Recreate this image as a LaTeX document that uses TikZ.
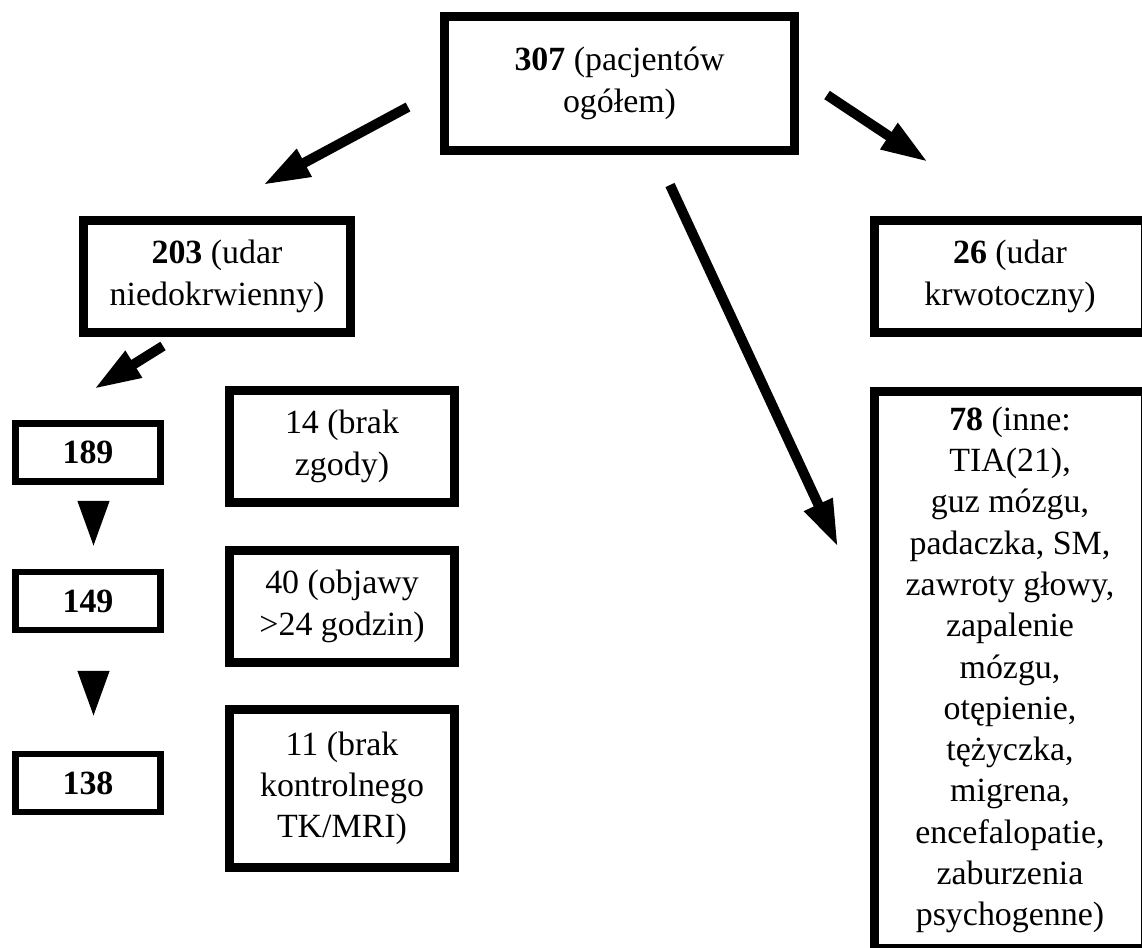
\documentclass[tikz,border=0pt]{standalone}
\usepackage{fontspec}
\setmainfont{Liberation Serif}
\usetikzlibrary{arrows.meta}
\tikzset{
  box/.style   ={draw, line width=0.18cm, align=center, inner sep=0pt,
                 font=\fontsize{19.3}{23.5}\selectfont},
  bigbox/.style={box, minimum width=5.34cm, minimum height=2.24cm},
  exbox/.style ={box, minimum width=4.5cm, minimum height=2.24cm},
  numbox/.style={box, line width=0.13cm, minimum width=2.91cm,
                 minimum height=1.16cm, font=\fontsize{19.3}{23.5}\selectfont\bfseries},
  % thick shaft with a big solid head
  flow/.style  ={line width=0.2cm, -{Triangle[length=0.94cm,width=0.58cm]}},
  % only the head, between two of the count boxes
  drop/.style  ={line width=0.2cm, -{Triangle[length=0.94cm,width=0.58cm]}},
}
\begin{document}
\begin{tikzpicture}[x=0.02cm, y=-0.02cm]
\useasboundingbox (0,0) rectangle (1142,947);
\node[box, line width=0.17cm, minimum width=7.01cm, minimum height=2.69cm]
  (total) at (619.5,83.5) {\textbf{307} (pacjentów\\ogółem)};
\node[bigbox] (isch) at (217,276.5) {\textbf{203} (udar\\niedokrwienny)};
\node[bigbox, minimum width=5.42cm] (hem) at (1010,276.5) {\textbf{26} (udar\\krwotoczny)};
\node[box, minimum width=5.42cm, minimum height=11.14cm] (other) at (1010,670)
  {\textbf{78} (inne:\\TIA(21),\\guz mózgu,\\padaczka, SM,\\zawroty głowy,\\zapalenie\\mózgu,\\otępienie,\\tężyczka,\\migrena,\\encefalopatie,\\zaburzenia\\psychogenne)};
\foreach \n/\y/\lab in {n189/452.5/189, n149/601/149, n138/783/138}
  {\node[numbox] (\n) at (88,\y) {\lab};}
\node[exbox] (no14) at (342,446.5) {14 (brak\\zgody)};
\node[exbox] (no40) at (342,606.5) {40 (objawy\\>24 godzin)};
\node[exbox, minimum height=3.16cm] (no11) at (342,788.5) {11 (brak\\kontrolnego\\TK/MRI)};
% arrow ends
\coordinate (l0) at (408,107);  \coordinate (l1) at (263,185);
\coordinate (r0) at (827,95);   \coordinate (r1) at (928,162);
\coordinate (m0) at (670,185);  \coordinate (m1) at (838,547);
\coordinate (s0) at (163,346);  \coordinate (s1) at (94,389);
\draw[flow] (l0) -- (l1);
\draw[flow] (r0) -- (r1);
\draw[flow] (m0) -- (m1);
\draw[flow] (s0) -- (s1);
\draw[drop, shorten <=0.32cm, shorten >=0.42cm]
  ([xshift=0.11cm]n189.south) -- ([xshift=0.11cm]n149.north);
\draw[drop, shorten <=0.75cm, shorten >=0.66cm]
  ([xshift=0.11cm]n149.south) -- ([xshift=0.11cm]n138.north);
\end{tikzpicture}
\end{document}
